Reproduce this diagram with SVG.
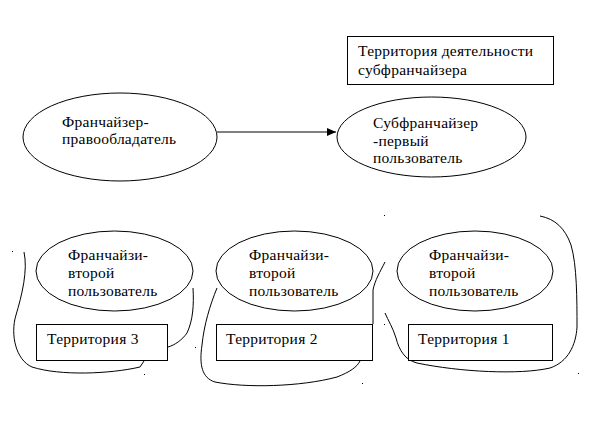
<svg xmlns="http://www.w3.org/2000/svg" width="613" height="421" viewBox="0 0 613 421" font-family="Liberation Serif, Times New Roman, serif" font-size="15.5">
<style>
.s{fill:none;stroke:#000;stroke-width:1}
.b{fill:#fff;stroke:#000;stroke-width:1}
.d{fill:#000}
text{letter-spacing:0.25px}
</style>
<defs>
<marker id="ah" markerWidth="10" markerHeight="8" refX="9" refY="4" orient="auto" markerUnits="userSpaceOnUse">
<path d="M0,0 L9,4 L0,8 Z" fill="#000"/>
</marker>
</defs>
<rect width="613" height="421" fill="#fff"/>
<g id="connectors">
<line class="s" x1="217" y1="132" x2="336" y2="132" marker-end="url(#ah)"/>
<path class="s" d="M24,252 C28,270 22,295 16,315 C10,335 16,360 32,367 C60,376 110,374 140,367 L144,361"/>
<path class="s" d="M193,288 C194,305 193,320 187,333 C182,340 175,345 168,347"/>
<path class="s" d="M217,288 C210,305 204,325 202,345 C199,365 202,378 215,382 C245,388 300,387 337,377 C350,372 357,367 360,361"/>
<path class="s" d="M385,262 C380,272 375,280 373,290 L373,324"/>
<path class="s" d="M540,216 C555,219 565,228 571,245 C577,265 577,300 577,327 C576,345 568,362 550,368 C520,375 460,372 417,363 C405,360 399,350 396,338 C393,328 388,320 385,313"/>
</g>
<g id="dots">
<rect class="d" x="12" y="251" width="1" height="1"/>
<rect class="d" x="168" y="288" width="1" height="1"/>
<rect class="d" x="195" y="347" width="1" height="1"/>
<rect class="d" x="144" y="374" width="1" height="1"/>
<rect class="d" x="362" y="383" width="1" height="1"/>
<rect class="d" x="384" y="215" width="1" height="1"/>
<rect class="d" x="384" y="324" width="1" height="1"/>
<rect class="d" x="578" y="373" width="1" height="1"/>
</g>
<g id="territory-sub">
<rect class="b" x="347.5" y="36.5" width="206" height="48"/>
<text x="358" y="56">Территория деятельности</text>
<text x="358" y="75">субфранчайзера</text>
</g>
<g id="franchisor">
<ellipse class="b" cx="120" cy="137" rx="97" ry="44"/>
<text x="62" y="127">Франчайзер-</text>
<text x="62" y="144">правообладатель</text>
</g>
<g id="subfranchisor">
<ellipse class="b" cx="431.5" cy="137" rx="94.5" ry="40"/>
<text x="373" y="128">Субфранчайзер</text>
<text x="373" y="146">-первый</text>
<text x="373" y="163">пользователь</text>
</g>
<g id="franchisee3">
<ellipse class="b" cx="114.5" cy="271" rx="78.5" ry="40"/>
<text x="68" y="260">Франчайзи-</text>
<text x="68" y="278">второй</text>
<text x="68" y="296">пользователь</text>
</g>
<g id="franchisee2">
<ellipse class="b" cx="294.5" cy="271" rx="78.5" ry="40"/>
<text x="249" y="260">Франчайзи-</text>
<text x="249" y="278">второй</text>
<text x="249" y="296">пользователь</text>
</g>
<g id="franchisee1">
<ellipse class="b" cx="475" cy="271" rx="78" ry="40"/>
<text x="429" y="260">Франчайзи-</text>
<text x="429" y="278">второй</text>
<text x="429" y="296">пользователь</text>
</g>
<g id="territory3">
<rect class="b" x="36.5" y="324.5" width="131" height="36"/>
<text x="47" y="344">Территория 3</text>
</g>
<g id="territory2">
<rect class="b" x="216.5" y="324.5" width="156" height="36"/>
<text x="226" y="344">Территория 2</text>
</g>
<g id="territory1">
<rect class="b" x="408.5" y="324.5" width="144" height="36"/>
<text x="418" y="344">Территория 1</text>
</g>
</svg>
